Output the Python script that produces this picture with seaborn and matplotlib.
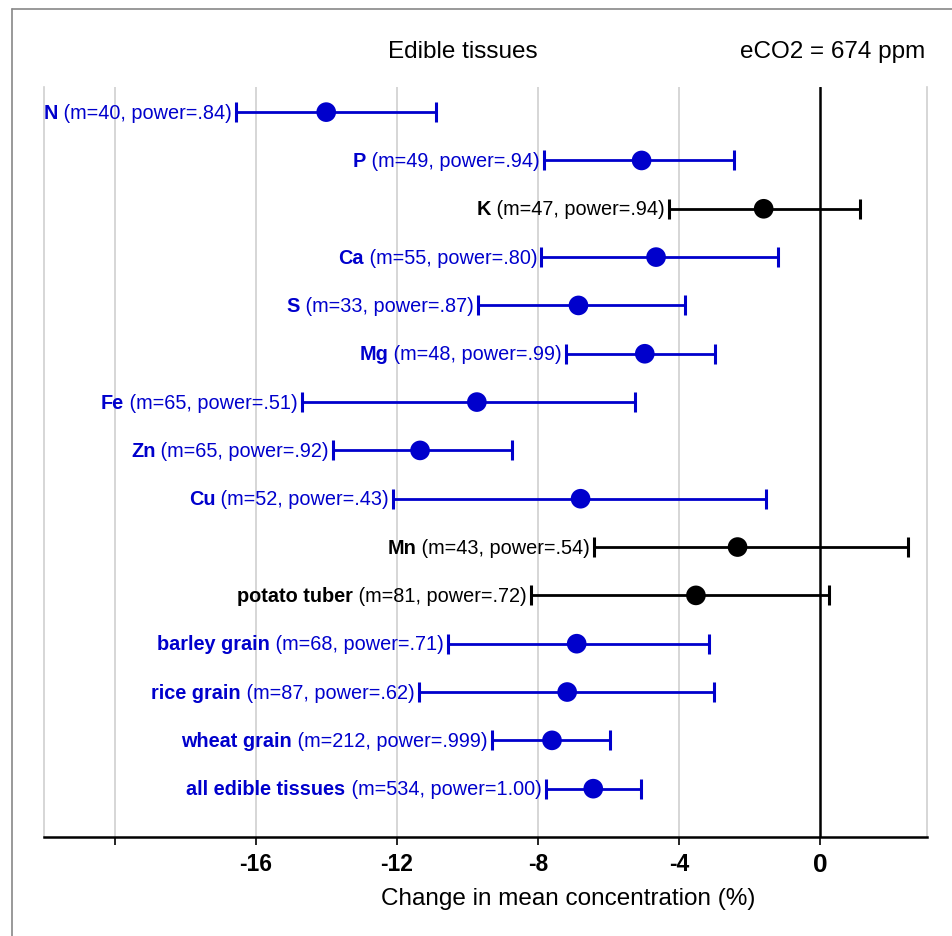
import matplotlib
matplotlib.use("Agg")
import matplotlib.pyplot as plt
from matplotlib.lines import Line2D
import seaborn as sns
import pandas as pd

# Nutrient / tissue effects of elevated CO2 on edible tissues
names = ["N", "P", "K", "Ca", "S", "Mg", "Fe", "Zn", "Cu", "Mn",
         "potato tuber", "barley grain", "rice grain", "wheat grain",
         "all edible tissues"]
m_counts = [40, 49, 47, 55, 33, 48, 65, 65, 52, 43, 81, 68, 87, 212, 534]
powers = [".84", ".94", ".94", ".80", ".87", ".99", ".51", ".92", ".43",
          ".54", ".72", ".71", ".62", ".999", "1.00"]
mean_change = [-14.0, -5.06, -1.60, -4.65, -6.85, -4.97, -9.73, -11.34,
               -6.79, -2.34, -3.52, -6.90, -7.17, -7.60, -6.43]
ci_low = [-16.55, -7.82, -4.28, -7.90, -9.70, -7.20, -14.70, -13.80,
          -12.10, -6.40, -8.20, -10.55, -11.37, -9.30, -7.78]
ci_high = [-10.90, -2.45, 1.13, -1.20, -3.84, -2.98, -5.25, -8.73,
           -1.53, 2.49, 0.26, -3.16, -3.02, -5.95, -5.09]
significant = [True, True, False, True, True, True, True, True, True,
               False, False, True, True, True, True]

tick_values = [-20, -16, -12, -8, -4, 0]
tick_labels = ["", "-16", "-12", "-8", "-4", "0"]

BLUE = "#0000cc"
BLACK = "#000000"

df = pd.DataFrame({
    "name": names,
    "row": range(len(names)),
    "mean": mean_change,
    "lo": ci_low,
    "hi": ci_high,
    "sig": ["yes" if s else "no" for s in significant],
})

sns.set_theme(style="white")
plt.rcParams["font.family"] = ["Liberation Sans", "DejaVu Sans"]
plt.rcParams["text.color"] = "black"
plt.rcParams["axes.labelcolor"] = "black"
plt.rcParams["xtick.color"] = "black"

fig = plt.figure(figsize=(9.52, 9.37), dpi=100)
ax = fig.add_axes([44 / 952, 1 - 838 / 937, (927 - 44) / 952, (838 - 88) / 937])

# grid lines
for gx in [-20, -16, -12, -8, -4]:
    ax.axvline(gx, color="#d0d0d0", lw=1.2, zorder=0)
ax.axvline(0, color="black", lw=1.8, zorder=1)

# confidence intervals
for _, r in df.iterrows():
    col = BLUE if r["sig"] == "yes" else BLACK
    ax.errorbar([r["mean"]], [r["row"]],
                xerr=[[r["mean"] - r["lo"]], [r["hi"] - r["mean"]]],
                fmt="none", ecolor=col, elinewidth=2.0, capsize=7.5,
                capthick=2.2, zorder=2)

sns.scatterplot(data=df, x="mean", y="row", hue="sig",
                palette={"yes": BLUE, "no": BLACK}, s=200,
                edgecolor="none", legend=False, ax=ax, zorder=3)

# row labels just left of each interval: bold name + sample info
LABEL_SIZE = 14.3
for _, r in df.iterrows():
    col = BLUE if r["sig"] == "yes" else BLACK
    i = int(r["row"])
    info = ax.annotate(f" (m={m_counts[i]}, power={powers[i]})",
                       xy=(r["lo"], r["row"]), xytext=(-3, 0),
                       textcoords="offset points", ha="right", va="center",
                       fontsize=LABEL_SIZE, color=col)
    ax.annotate(r["name"], xy=(0, 0), xycoords=info, ha="right",
                va="bottom", fontsize=LABEL_SIZE, fontweight="bold",
                color=col)

ax.set_xlim(-22, 3.03)
ax.set_ylim(len(names) - 1 + 1.0, -0.52)
ax.set_yticks([])
ax.set_xticks(tick_values)
ax.set_xticklabels(tick_labels, fontsize=16.5, fontweight="bold")
ax.get_xticklabels()[-1].set_fontsize(19)
ax.tick_params(axis="x", direction="out", length=6, width=1.2,
               color="black", pad=5, bottom=True)
ax.set_xlabel("Change in mean concentration (%)", fontsize=17.5)
ax.xaxis.set_label_coords((568 - 44) / 883, -50 / 750)
ax.set_ylabel("")

for side in ["left", "right"]:
    ax.spines[side].set_color("#d0d0d0")
    ax.spines[side].set_linewidth(1.2)
ax.spines["top"].set_visible(False)
ax.spines["bottom"].set_color("black")
ax.spines["bottom"].set_linewidth(1.8)

fig.text(463 / 952, 1 - 52 / 937, "Edible tissues", ha="center",
         va="center", fontsize=17.5)
fig.text(925 / 952, 1 - 52 / 937, "eCO2 = 674 ppm", ha="right",
         va="center", fontsize=17.5)

# panel frame
fx, fy = 12 / 952, 1 - 10 / 937
fig.add_artist(Line2D([fx, fx], [0, fy], color="#888888", lw=1.2))
fig.add_artist(Line2D([fx, 1], [fy, fy], color="#888888", lw=1.2))

fig.savefig("out.png", dpi=100)
